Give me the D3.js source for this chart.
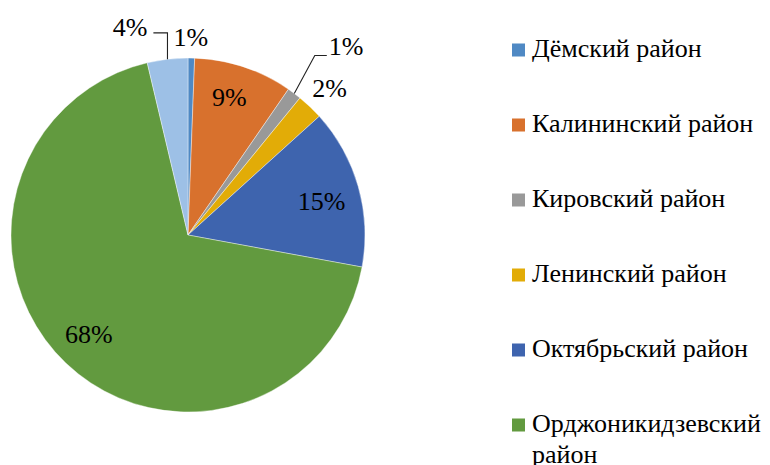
<!DOCTYPE html>
<html>
<head>
<meta charset="utf-8">
<script src="https://cdn.jsdelivr.net/npm/d3@7"></script>
<style>
  html, body { margin: 0; padding: 0; background: #ffffff; }
  svg { display: block; }
</style>
</head>
<body>
<svg id="chart" width="770" height="465"></svg>
<script>
const categories = ["Дёмский район", "Калининский район", "Кировский район", "Ленинский район", "Октябрьский район", "Орджоникидзевский район", "Советский район"];
const values = [0.6, 9.0, 1.3, 2.4, 14.6, 68.4, 3.7];
const colors = ["#4F89C4", "#D8712D", "#999999", "#E2AC07", "#3E64AE", "#629A3F", "#9DC0E6"];

const W = 770, H = 465;
const cx = 188, cy = 235, R = 177;
const fontSize = 26;
const FONT = "'Times New Roman', Tinos, 'Liberation Serif', serif";

const svg = d3.select("#chart");
const total = d3.sum(values);
const data = categories.map((c, i) => ({ name: c, value: values[i], color: colors[i], label: Math.round(values[i] / total * 100) + "%" }));

const pie = d3.pie().sort(null).value(d => d.value).startAngle(0).endAngle(2 * Math.PI);
const arcs = pie(data);
const arc = d3.arc().innerRadius(0).outerRadius(R);

const g = svg.append("g").attr("transform", `translate(${cx},${cy})`);
g.selectAll("path.slice").data(arcs).enter().append("path")
  .attr("class", "slice")
  .attr("d", arc)
  .attr("fill", d => d.data.color)
  .attr("stroke", "#ffffff")
  .attr("stroke-width", 0.4);

// label layout (code-side placement rules)
const layout = {
  0: { r: 198, dx: -1, dy: 0 },
  1: { r: 141, dx: -3, dy: -4 },
  2: { r: 246, da: 3.1, dx: 0, dy: 0, leader: "right" },
  3: { r: 204, dx: 1, dy: 1 },
  4: { r: 141, dx: -2, dy: 5 },
  5: { r: 141, dx: -2, dy: -3 },
  6: { r: 216, da: -8.9, dx: 0, dy: 0, leader: "left" }
};

function polar(r, ang) { return [r * Math.sin(ang), -r * Math.cos(ang)]; }

arcs.forEach((a, i) => {
  const L = layout[i];
  const mid = (a.startAngle + a.endAngle) / 2;
  const ang = mid + (L.da || 0) * Math.PI / 180;
  const p = polar(L.r, ang);
  const x = p[0] + L.dx, y = p[1] + L.dy;
  const t = g.append("text")
    .attr("x", x).attr("y", y).attr("dy", "0.33em")
    .attr("text-anchor", "middle")
    .style("font-family", FONT)
    .attr("font-size", fontSize)
    .attr("fill", "#000")
    .text(a.data.label);
  const w = t.node().getComputedTextLength();
  if (L.leader) {
    const edge = polar(R, mid);
    let pts;
    if (L.leader === "right") {
      const end = [x - w / 2 - 2, y + 9];
      const elbow = [end[0] - 12, end[1]];
      pts = [edge, elbow, end];
    } else {
      const end = [x + w / 2 + 6, y + 6];
      const elbow = [edge[0], end[1]];
      pts = [edge, elbow, end];
    }
    g.append("polyline")
      .attr("points", pts.map(q => q.join(",")).join(" "))
      .attr("fill", "none")
      .attr("stroke", "#222")
      .attr("stroke-width", 1.1);
  }
});

// legend
const legX = 512, legY0 = 50, legStep = 75, sq = 13, textX = 532, lineH = 31;
const leg = svg.append("g");
data.forEach((d, i) => {
  const yc = legY0 + i * legStep;
  leg.append("rect").attr("x", legX).attr("y", yc - sq / 2).attr("width", sq).attr("height", sq).attr("fill", d.color);
  const t = leg.append("text").attr("x", textX).attr("y", yc + 7)
    .style("font-family", FONT).attr("font-size", fontSize).attr("fill", "#000").text(d.name);
  if (t.node().getComputedTextLength() > W - textX - 2) {
    const words = d.name.split(" ");
    const last = words.pop();
    t.text(null);
    t.append("tspan").attr("x", textX).text(words.join(" "));
    t.append("tspan").attr("x", textX).attr("dy", lineH).text(last);
  }
});
</script>
</body>
</html>
